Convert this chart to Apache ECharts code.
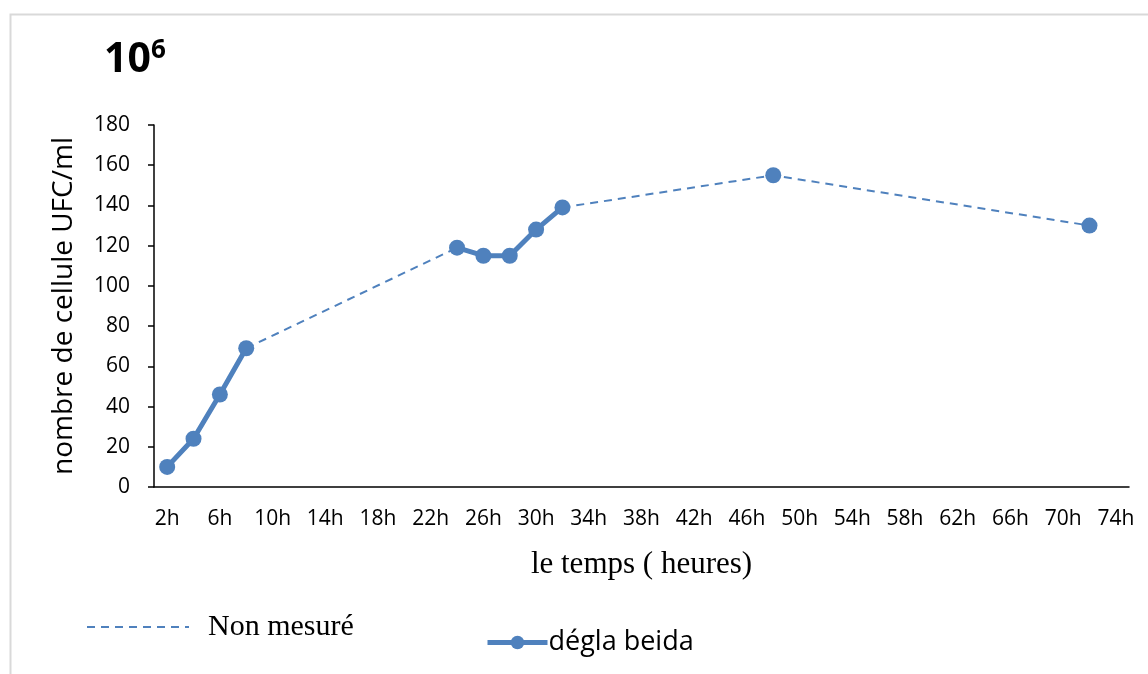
<!DOCTYPE html>
<html>
<head>
<meta charset="utf-8">
<script src="https://cdn.jsdelivr.net/npm/echarts@6/dist/echarts.min.js"></script>
<style>
html, body { margin: 0; padding: 0; background: #fff; }
#chart { width: 1148px; height: 674px; }
</style>
</head>
<body>
<div id="chart"></div>
<script>
// categories: 2h .. 74h, every 2 hours
var hours = [];
for (var h = 2; h <= 74; h += 2) hours.push(h + 'h');

// measured points (null = not measured)
var measured = {
    '2h': 10, '4h': 24, '6h': 46, '8h': 69,
    '24h': 119, '26h': 115, '28h': 115, '30h': 128, '32h': 139,
    '48h': 155, '72h': 130
};
// dashed "non mesuré" links between measured blocks
var gapLink1 = {'8h': 69, '24h': 119};
var gapLink2 = {'32h': 139, '48h': 155, '72h': 130};

var yTicks = [0, 20, 40, 60, 80, 100, 120, 140, 160, 180];

function toSeries(obj) {
    return hours.map(function (c) {
        return obj[c] !== undefined ? obj[c] : null;
    });
}

var blue = '#4f81bd';
var chart = echarts.init(document.getElementById('chart'));

var dashStyle = {color: blue, width: 2, type: [8, 6]};

var option = {
    backgroundColor: '#fff',
    animation: false,
    graphic: [
        {
            type: 'rect', left: 8, top: 12,
            shape: {width: 1160, height: 700},
            style: {fill: 'none', stroke: '#d9d9d9', lineWidth: 2}
        },
        {
            type: 'text', left: 104, top: 38,
            style: {
                text: '{b|10}{s|6}',
                rich: {
                    b: {fontFamily: 'Open Sans', fontWeight: 'bold', fontSize: 41, fill: '#000'},
                    s: {fontFamily: 'Open Sans', fontWeight: 'bold', fontSize: 26, fill: '#000', verticalAlign: 'top', padding: [0, 0, 18, 0]}
                }
            }
        }
    ],
    legend: [
        {
            data: ['Non mesuré'],
            left: 86, top: 612,
            padding: 0,
            itemWidth: 102, itemHeight: 14,
            itemStyle: {opacity: 0},
            lineStyle: {width: 2},
            textStyle: {fontFamily: 'Liberation Serif', fontSize: 30, color: '#000', padding: [0, 0, 0, 14]}
        },
        {
            data: ['dégla beida'],
            left: 485, top: 629,
            padding: 0,
            itemWidth: 60, itemHeight: 17,
            lineStyle: {width: 5},
            textStyle: {fontFamily: 'Open Sans', fontSize: 27, color: '#000', padding: [0, 0, 0, -4]}
        }
    ],
    grid: {left: 154, right: 19, top: 125, bottom: 187, containLabel: false},
    xAxis: {
        type: 'category',
        data: hours,
        boundaryGap: true,
        name: 'le temps ( heures)',
        nameLocation: 'middle',
        nameGap: 62,
        nameTextStyle: {fontFamily: 'Liberation Serif', fontSize: 31, color: '#000'},
        axisLine: {lineStyle: {color: '#000', width: 1.5}},
        axisTick: {alignWithLabel: true, interval: 0, length: 6, lineStyle: {color: '#000', width: 1.5}},
        axisLabel: {interval: 1, margin: 22, fontFamily: 'Open Sans', fontSize: 21, color: '#000'}
    },
    yAxis: {
        type: 'value',
        min: yTicks[0],
        max: yTicks[yTicks.length - 1],
        interval: 20,
        name: 'nombre de cellule UFC/ml',
        nameLocation: 'middle',
        nameGap: 76,
        nameTextStyle: {fontFamily: 'Open Sans', fontSize: 28, color: '#000'},
        axisLine: {show: true, lineStyle: {color: '#000', width: 1.5}},
        axisTick: {show: true, length: 6, lineStyle: {color: '#000', width: 1.5}},
        axisLabel: {margin: 24, fontFamily: 'Open Sans', fontSize: 21, color: '#000'},
        splitLine: {show: false}
    },
    series: [
        {
            name: 'Non mesuré',
            type: 'line',
            data: toSeries(gapLink1),
            connectNulls: true,
            symbol: 'none',
            z: 1,
            lineStyle: dashStyle,
            itemStyle: {color: blue}
        },
        {
            name: 'Non mesuré',
            type: 'line',
            data: toSeries(gapLink2),
            connectNulls: true,
            symbol: 'none',
            z: 1,
            lineStyle: dashStyle,
            itemStyle: {color: blue}
        },
        {
            name: 'dégla beida',
            type: 'line',
            data: toSeries(measured),
            connectNulls: false,
            symbol: 'circle',
            symbolSize: 16,
            z: 2,
            lineStyle: {color: blue, width: 5},
            itemStyle: {color: blue}
        }
    ]
};

chart.setOption(option);
</script>
</body>
</html>
